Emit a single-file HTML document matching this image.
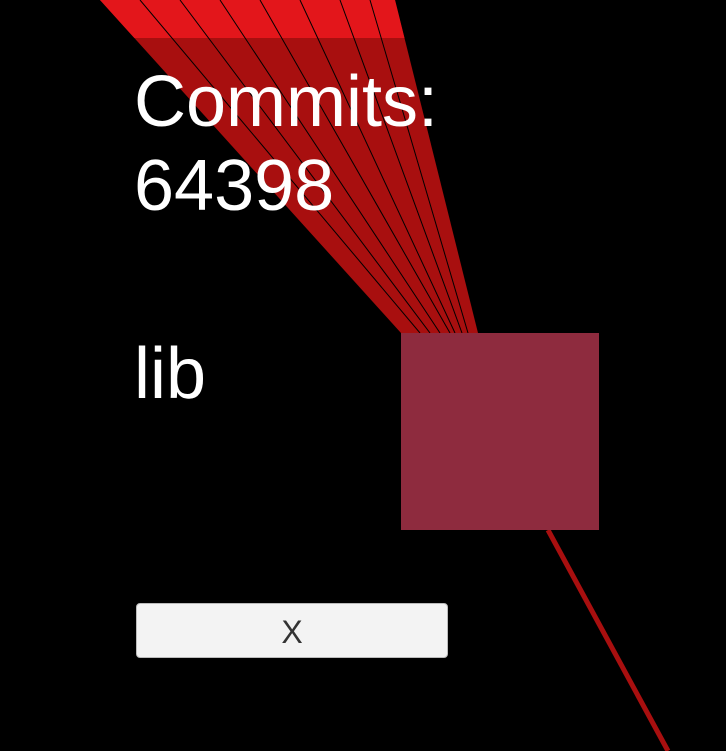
<!DOCTYPE html>
<html><head><style>
body{margin:0;width:726px;height:751px;background:#000;overflow:hidden;position:relative;font-family:"Liberation Sans",sans-serif}
.t{position:absolute;left:134px;color:#fff;font-size:72px;line-height:1}
.btn{position:absolute;left:136px;top:603px;width:310px;height:53px;background:#f3f3f3;border:1px solid #bbb;border-radius:4px;color:#333;font-size:32px;text-align:center;line-height:56px}
</style></head><body>
<svg width="726" height="751" style="position:absolute;left:0;top:0">
<defs><clipPath id="c"><polygon points="100,0 395,0 478,333 401,333"/></clipPath></defs>
<polygon points="100,0 395,0 478,333 401,333" fill="#a80f0f"/>
<g clip-path="url(#c)">
<rect x="0" y="0" width="726" height="38" fill="#e3161b"/>
<g stroke="#000" stroke-width="1">
<line x1="140" y1="0" x2="420" y2="333"/><line x1="180" y1="0" x2="430" y2="333"/>
<line x1="220" y1="0" x2="440" y2="333"/><line x1="260" y1="0" x2="450" y2="333"/>
<line x1="300" y1="0" x2="455" y2="333"/><line x1="340" y1="0" x2="462" y2="333"/>
<line x1="370" y1="0" x2="468" y2="333"/>
</g></g>
<line x1="548" y1="530" x2="668" y2="751" stroke="#a80f0f" stroke-width="5"/>
<rect x="401" y="333" width="198" height="197" fill="#8e2b3e"/>
</svg>
<div class="t" style="top:66px">Commits:</div>
<div class="t" style="top:150px">64398</div>
<div class="t" style="top:338px">lib</div>
<div class="btn">X</div>
</body></html>
